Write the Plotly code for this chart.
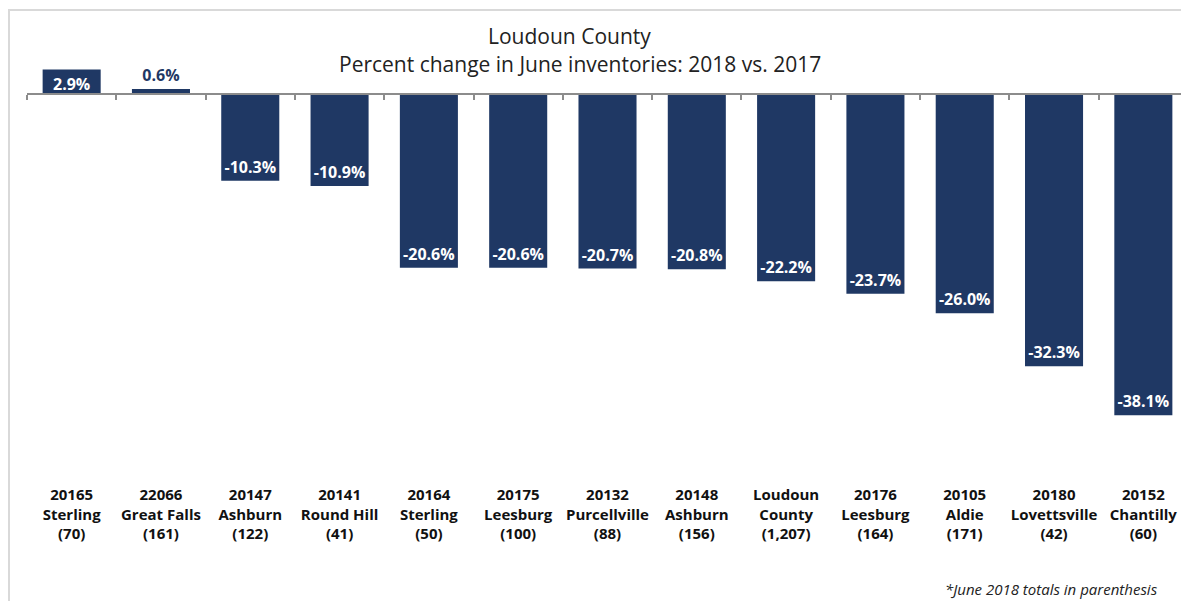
import plotly.graph_objects as go

zips = ["20165", "22066", "20147", "20141", "20164", "20175", "20132",
        "20148", "Loudoun", "20176", "20105", "20180", "20152"]
places = ["Sterling", "Great Falls", "Ashburn", "Round Hill", "Sterling", "Leesburg",
          "Purcellville", "Ashburn", "County", "Leesburg", "Aldie", "Lovettsville", "Chantilly"]
totals = ["70", "161", "122", "41", "50", "100", "88", "156", "1,207", "164", "171", "42", "60"]
pct_change = [2.9, 0.6, -10.3, -10.9, -20.6, -20.6, -20.7, -20.8, -22.2, -23.7, -26.0, -32.3, -38.1]

NAVY = "#1f3864"
FONT = "Open Sans"

cats = [f"{z}<br>{p}<br>({t})" for z, p, t in zip(zips, places, totals)]
labels = [f"{v:.1f}%" for v in pct_change]
positions = ["outside" if 0 <= v < 1.5 else "inside" for v in pct_change]

# geometry: page pixels; the page body has an 8px margin
O = 8
PAGE_W, PAGE_H = 1189, 601
W, H = PAGE_W - O, PAGE_H - O
L_pg, R_pg = 27, 1188     # plot area left/right on page
T_pg, B_pg = 60, 475      # plot area top/bottom on page
ppu = 8.43
zero_pg = 94
ymax = (zero_pg - T_pg) / ppu
ymin = -(B_pg - zero_pg) / ppu
PH = B_pg - T_pg
PW = R_pg - L_pg
zero_pos = (B_pg - zero_pg) / PH


def py(px):
    return (B_pg - px) / PH


def pxx(px):
    return (px - L_pg) / PW


fig = go.Figure()
fig.add_trace(go.Bar(
    x=cats, y=pct_change, marker=dict(color=NAVY, line=dict(width=0)),
    text=labels, textposition=positions, insidetextanchor="end",
    textfont=dict(family=FONT, size=16, color="white", weight="bold"),
    outsidetextfont=dict(family=FONT, size=16, color=NAVY, weight="bold"),
    constraintext="none", cliponaxis=False, hoverinfo="skip",
))
fig.add_trace(go.Scatter(
    x=cats, y=[0] * len(cats), xaxis="x2", mode="markers",
    marker=dict(opacity=0), hoverinfo="skip", showlegend=False,
))

fig.update_layout(
    width=W, height=H,
    margin=dict(l=L_pg - O, r=W - (R_pg - O), t=T_pg - O, b=H - (B_pg - O), pad=0,
                autoexpand=False),
    plot_bgcolor="white", paper_bgcolor="white",
    showlegend=False, bargap=0.35,
    xaxis=dict(
        type="category", categoryarray=cats, range=[-0.5, 12.5],
        showline=False, ticks="", showgrid=False, zeroline=False, automargin=False,
        tickfont=dict(family=FONT, size=15, color="#111111", weight="bold"),
        ticklabelstandoff=9,
    ),
    xaxis2=dict(
        type="category", categoryarray=cats, range=[-0.5, 12.5],
        overlaying="x", anchor="free", position=zero_pos, automargin=False,
        showline=True, linecolor="#8c8c8c", linewidth=2,
        ticks="outside", tickson="boundaries", ticklen=5, tickcolor="#8c8c8c", tickwidth=1.5,
        showticklabels=False, showgrid=False, zeroline=False,
    ),
    yaxis=dict(range=[ymin, ymax], visible=False, showgrid=False, zeroline=False,
               automargin=False),
    shapes=[dict(
        type="rect", xref="paper", yref="paper",
        x0=pxx(9), x1=pxx(PAGE_W + 10), y0=py(PAGE_H + 10), y1=py(10),
        line=dict(color="#d9d9d9", width=2), fillcolor="rgba(0,0,0,0)", layer="below",
    )],
    annotations=[
        dict(text="Loudoun County", xref="paper", yref="paper",
             x=pxx(569), y=py(36), xanchor="center", yanchor="middle", showarrow=False,
             font=dict(family=FONT, size=21, color="#222222")),
        dict(text="Percent change in June inventories: 2018 vs. 2017", xref="paper", yref="paper",
             x=pxx(580), y=py(64), xanchor="center", yanchor="middle", showarrow=False,
             font=dict(family=FONT, size=21, color="#222222")),
        dict(text="*June 2018 totals in parenthesis", xref="paper", yref="paper",
             x=pxx(1160), y=py(589), xanchor="right", yanchor="middle", showarrow=False,
             font=dict(family=FONT, size=15, color="#222222", style="italic")),
    ],
)

fig.write_html("out.html")
